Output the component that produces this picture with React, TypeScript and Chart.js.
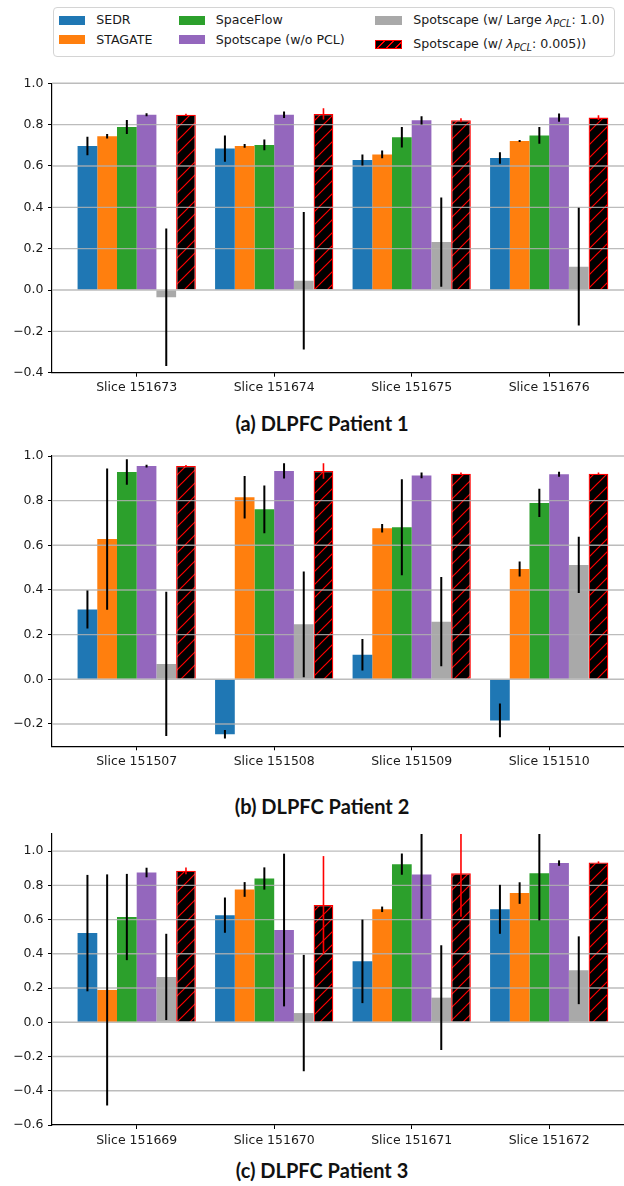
import React, { useEffect, useRef } from 'react';
import { Chart, registerables } from 'chart.js';

Chart.register(...registerables);

// ---------------- data ----------------
const seriesNames = [
  'SEDR',
  'STAGATE',
  'SpaceFlow',
  'Spotscape (w/o PCL)',
  'Spotscape (w/ Large λ_PCL: 1.0)',
  'Spotscape (w/ λ_PCL: 0.005))',
];
const seriesColors = ['#1f77b4', '#ff7f0e', '#2ca02c', '#9467bd', '#a9a9a9', 'hatch'];
const errorColors = ['#000000', '#000000', '#000000', '#000000', '#000000', '#ff0000'];

// (a) DLPFC Patient 1
const slicesA = ['Slice 151673', 'Slice 151674', 'Slice 151675', 'Slice 151676'];
const sedrA = [0.697, 0.684, 0.629, 0.639];
const sedrErrA = [0.045, 0.063, 0.027, 0.028];
const stagateA = [0.744, 0.697, 0.656, 0.721];
const stagateErrA = [0.011, 0.009, 0.019, 0.005];
const spaceflowA = [0.789, 0.702, 0.739, 0.748];
const spaceflowErrA = [0.034, 0.026, 0.05, 0.04];
const noPclA = [0.848, 0.848, 0.821, 0.834];
const noPclErrA = [0.007, 0.016, 0.02, 0.02];
const largePclA = [-0.035, 0.045, 0.232, 0.113];
const largePclErrA = [0.333, 0.333, 0.216, 0.285];
const spotscapeA = [0.848, 0.852, 0.821, 0.834];
const spotscapeErrA = [0.005, 0.027, 0.01, 0.012];
const yTicksA = [-0.4, -0.2, 0.0, 0.2, 0.4, 0.6, 0.8, 1.0];
const yRangeA = [-0.4, 1.0];
const captionA = '(a) DLPFC Patient 1';

// (b) DLPFC Patient 2
const slicesB = ['Slice 151507', 'Slice 151508', 'Slice 151509', 'Slice 151510'];
const sedrB = [0.313, -0.246, 0.11, -0.184];
const sedrErrB = [0.085, 0.019, 0.071, 0.076];
const stagateB = [0.628, 0.815, 0.676, 0.494];
const stagateErrB = [0.316, 0.095, 0.019, 0.034];
const spaceflowB = [0.928, 0.761, 0.681, 0.79];
const spaceflowErrB = [0.057, 0.107, 0.215, 0.063];
const noPclB = [0.955, 0.933, 0.913, 0.918];
const noPclErrB = [0.006, 0.034, 0.013, 0.011];
const largePclB = [0.069, 0.246, 0.258, 0.512];
const largePclErrB = [0.323, 0.237, 0.2, 0.126];
const spotscapeB = [0.955, 0.933, 0.921, 0.921];
const spotscapeErrB = [0.005, 0.035, 0.005, 0.005];
const yTicksB = [-0.2, 0.0, 0.2, 0.4, 0.6, 0.8, 1.0];
const yRangeB = [-0.3, 1.0];
const captionB = '(b) DLPFC Patient 2';

// (c) DLPFC Patient 3
const slicesC = ['Slice 151669', 'Slice 151670', 'Slice 151671', 'Slice 151672'];
const sedrC = [0.521, 0.626, 0.356, 0.66];
const sedrErrC = [0.34, 0.103, 0.244, 0.143];
const stagateC = [0.189, 0.776, 0.66, 0.755];
const stagateErrC = [0.675, 0.043, 0.016, 0.063];
const spaceflowC = [0.615, 0.84, 0.924, 0.87];
const spaceflowErrC = [0.252, 0.065, 0.062, 0.275];
const noPclC = [0.875, 0.539, 0.864, 0.93];
const noPclErrC = [0.028, 0.446, 0.259, 0.016];
const largePclC = [0.265, 0.054, 0.144, 0.304];
const largePclErrC = [0.252, 0.34, 0.306, 0.198];
const spotscapeC = [0.885, 0.685, 0.87, 0.934];
const spotscapeErrC = [0.02, 0.286, 0.253, 0.006];
const yTicksC = [-0.6, -0.4, -0.2, 0.0, 0.2, 0.4, 0.6, 0.8, 1.0];
const yRangeC = [-0.6, 1.1];
const captionC = '(c) DLPFC Patient 3';

// ---------------- layout ----------------
const PAGE_W = 624;
const PAGE_H = 1186;
const CANVAS_W = 660;
const PLOT_LEFT = 52;
const UNIT_PX = 137.5;
const X_MIN = -0.616;
const X_MAX = 3.616;
const PLOT_RIGHT = PLOT_LEFT + (X_MAX - X_MIN) * UNIT_PX;
const X_AXIS_H = 32;
const TICK_FONT = { family: '"DejaVu Sans", sans-serif', size: 12.5 };
const TEXT_COLOR = '#1a1a1a';

type PanelCfg = {
  slices: string[];
  values: number[][];
  errors: number[][];
  yTicks: number[];
  yRange: number[];
  caption: string;
  plotTop: number;
  plotBottom: number;
  captionY: number;
};

const panels: PanelCfg[] = [
  {
    slices: slicesA,
    values: [sedrA, stagateA, spaceflowA, noPclA, largePclA, spotscapeA],
    errors: [sedrErrA, stagateErrA, spaceflowErrA, noPclErrA, largePclErrA, spotscapeErrA],
    yTicks: yTicksA,
    yRange: yRangeA,
    caption: captionA,
    plotTop: 83.3,
    plotBottom: 372.7,
    captionY: 423,
  },
  {
    slices: slicesB,
    values: [sedrB, stagateB, spaceflowB, noPclB, largePclB, spotscapeB],
    errors: [sedrErrB, stagateErrB, spaceflowErrB, noPclErrB, largePclErrB, spotscapeErrB],
    yTicks: yTicksB,
    yRange: yRangeB,
    caption: captionB,
    plotTop: 456,
    plotBottom: 746.3,
    captionY: 806,
  },
  {
    slices: slicesC,
    values: [sedrC, stagateC, spaceflowC, noPclC, largePclC, spotscapeC],
    errors: [sedrErrC, stagateErrC, spaceflowErrC, noPclErrC, largePclErrC, spotscapeErrC],
    yTicks: yTicksC,
    yRange: yRangeC,
    caption: captionC,
    plotTop: 834,
    plotBottom: 1125,
    captionY: 1170,
  },
];

function makeHatch(ctx: CanvasRenderingContext2D): CanvasPattern | string {
  const s = 13;
  const c = document.createElement('canvas');
  c.width = s;
  c.height = s;
  const g = c.getContext('2d');
  if (!g) return '#000';
  g.fillStyle = '#000';
  g.fillRect(0, 0, s, s);
  g.strokeStyle = '#ff0000';
  g.lineWidth = 1.2;
  g.beginPath();
  g.moveTo(0, s);
  g.lineTo(s, 0);
  g.moveTo(-s, s);
  g.lineTo(s, -s);
  g.moveTo(0, 2 * s);
  g.lineTo(2 * s, 0);
  g.stroke();
  return ctx.createPattern(c, 'repeat') || '#000';
}

const fmt = (v: number) => {
  const s = Math.abs(v) < 1e-9 ? '0.0' : v.toFixed(1);
  return s.replace('-', '\u2212');
};

const overlayPlugin = {
  id: 'overlay',
  afterDatasetsDraw(chart: any, _args: any, opts: any) {
    const { ctx, chartArea: a, scales } = chart;
    const ys = scales.y;
    ctx.save();
    // grid lines drawn over bars
    ctx.strokeStyle = 'rgba(176,176,176,0.85)';
    ctx.lineWidth = 1.4;
    ys.ticks.forEach((t: any) => {
      if (Math.abs(t.value - ys.min) < 1e-9) return;
      const y = ys.getPixelForValue(t.value);
      ctx.beginPath();
      ctx.moveTo(a.left, y);
      ctx.lineTo(a.right, y);
      ctx.stroke();
    });
    // error bars
    ctx.beginPath();
    ctx.rect(a.left, a.top, a.right - a.left, a.bottom - a.top);
    ctx.clip();
    const values: number[][] = opts.values;
    const errors: number[][] = opts.errors;
    values.forEach((vals, k) => {
      const meta = chart.getDatasetMeta(k);
      ctx.strokeStyle = errorColors[k];
      ctx.lineWidth = k === 5 ? 1.6 : 2;
      meta.data.forEach((bar: any, i: number) => {
        const v = vals[i];
        const e = errors[k][i];
        const y1 = ys.getPixelForValue(v + e);
        const y2 = ys.getPixelForValue(v - e);
        ctx.beginPath();
        ctx.moveTo(bar.x, y1);
        ctx.lineTo(bar.x, y2);
        ctx.stroke();
      });
    });
    ctx.restore();
  },
};

function Panel({ cfg }: { cfg: PanelCfg }) {
  const ref = useRef<HTMLCanvasElement>(null);
  const canvasTop = Math.floor(cfg.plotTop) - 12;
  const padTop = cfg.plotTop - canvasTop;
  const canvasH = Math.ceil(cfg.plotBottom - canvasTop + X_AXIS_H);
  const xAxisH = canvasH - (cfg.plotBottom - canvasTop);

  useEffect(() => {
    const canvas = ref.current;
    if (!canvas) return;
    const ctx = canvas.getContext('2d');
    if (!ctx) return;
    const hatch = makeHatch(ctx);
    const chart = new Chart(canvas, {
      type: 'bar',
      data: {
        datasets: cfg.values.map((vals, k) => ({
          label: seriesNames[k],
          data: vals.map((v, i) => ({ x: i, y: v })),
          backgroundColor: seriesColors[k] === 'hatch' ? hatch : seriesColors[k],
          borderColor: k === 5 ? '#ff0000' : 'rgba(0,0,0,0)',
          borderWidth: k === 5 ? 1.3 : 0,
          categoryPercentage: 0.86,
          barPercentage: 1,
        })),
      } as any,
      options: {
        animation: false,
        responsive: false,
        maintainAspectRatio: false,
        devicePixelRatio: 1,
        events: [],
        layout: {
          padding: { top: padTop, left: 0, bottom: 0, right: CANVAS_W - PLOT_RIGHT },
        },
        plugins: {
          legend: { display: false },
          tooltip: { enabled: false },
          overlay: { values: cfg.values, errors: cfg.errors },
        } as any,
        scales: {
          x: {
            type: 'linear',
            offset: false,
            min: X_MIN,
            max: X_MAX,
            afterBuildTicks: (s: any) => {
              s.ticks = cfg.slices.map((_, i) => ({ value: i }));
            },
            afterFit: (s: any) => {
              s.height = xAxisH;
            },
            ticks: {
              autoSkip: false,
              maxRotation: 0,
              minRotation: 0,
              padding: 4,
              color: TEXT_COLOR,
              font: TICK_FONT,
              callback: (v: any) => cfg.slices[Math.round(Number(v))] ?? '',
            },
            grid: {
              display: true,
              offset: false,
              drawOnChartArea: false,
              drawTicks: true,
              tickLength: 4,
              tickColor: '#000',
              tickWidth: 1,
            },
            border: { display: true, color: '#000', width: 1.2 },
          },
          y: {
            type: 'linear',
            min: cfg.yRange[0],
            max: cfg.yRange[1],
            afterBuildTicks: (s: any) => {
              s.ticks = cfg.yTicks.map((v) => ({ value: v }));
            },
            afterFit: (s: any) => {
              s.width = PLOT_LEFT;
            },
            ticks: {
              padding: 4.5,
              color: TEXT_COLOR,
              font: TICK_FONT,
              callback: (v: any) => fmt(Number(v)),
            },
            grid: {
              display: true,
              drawOnChartArea: false,
              drawTicks: true,
              tickLength: 4,
              tickColor: '#000',
              tickWidth: 1,
            },
            border: { display: true, color: '#000', width: 1.2 },
          },
        },
      } as any,
      plugins: [overlayPlugin],
    });
    return () => chart.destroy();
  }, []);

  return (
    <>
      <canvas
        ref={ref}
        width={CANVAS_W}
        height={canvasH}
        style={{ position: 'absolute', left: 0, top: canvasTop, width: CANVAS_W, height: canvasH }}
      />
      <div
        style={{
          position: 'absolute',
          left: 0,
          width: 644,
          top: cfg.captionY - 12,
          height: 24,
          lineHeight: '24px',
          textAlign: 'center',
          fontFamily: 'Lato, "Open Sans", sans-serif',
          fontWeight: 700,
          fontSize: 20,
          color: '#111',
        }}
      >
        {cfg.caption}
      </div>
    </>
  );
}

function LegendLabel({ text }: { text: string }) {
  const parts = text.split('λ_PCL');
  if (parts.length === 1) return <>{text}</>;
  return (
    <>
      {parts[0]}
      <span style={{ fontStyle: 'italic' }}>λ</span>
      <span style={{ fontStyle: 'italic', fontSize: '0.78em', position: 'relative', top: '0.3em' }}>PCL</span>
      {parts[1]}
    </>
  );
}

const legendPatchX = [58.5, 178.7, 375];
const legendTextX = [96.2, 215.7, 413.3];
const legendRowY = [
  [20.4, 39.6],
  [20.4, 39.6],
  [20.4, 44],
];

function Legend() {
  const items: React.ReactNode[] = [];
  seriesNames.forEach((name, k) => {
    const col = Math.floor(k / 2);
    const row = k % 2;
    const cy = legendRowY[col][row];
    const isHatch = seriesColors[k] === 'hatch';
    items.push(
      <div
        key={'p' + k}
        style={{
          position: 'absolute',
          left: legendPatchX[col],
          top: cy - 4.5,
          width: 26.5,
          height: 9,
          boxSizing: 'border-box',
          background: isHatch
            ? 'repeating-linear-gradient(135deg, #000 0px, #000 5px, #ff0000 5px, #ff0000 6.5px)'
            : seriesColors[k],
          border: isHatch ? '1.3px solid #ff0000' : 'none',
        }}
      />
    );
    items.push(
      <div
        key={'t' + k}
        style={{
          position: 'absolute',
          left: legendTextX[col],
          top: cy - 9,
          height: 18,
          lineHeight: '18px',
          whiteSpace: 'nowrap',
          fontFamily: '"DejaVu Sans", sans-serif',
          fontSize: 12.6,
          color: TEXT_COLOR,
        }}
      >
        <LegendLabel text={name} />
      </div>
    );
  });
  return (
    <>
      <div
        style={{
          position: 'absolute',
          left: 53,
          top: 6.7,
          width: 562,
          height: 50,
          boxSizing: 'border-box',
          border: '1px solid #d4d4d4',
          borderRadius: 4,
          background: '#fff',
        }}
      />
      {items}
    </>
  );
}

export default function App() {
  return (
    <div
      style={{
        position: 'absolute',
        left: 0,
        top: 0,
        width: PAGE_W,
        height: PAGE_H,
        overflow: 'hidden',
        background: '#fff',
      }}
    >
      <Legend />
      {panels.map((p, i) => (
        <Panel key={i} cfg={p} />
      ))}
    </div>
  );
}
